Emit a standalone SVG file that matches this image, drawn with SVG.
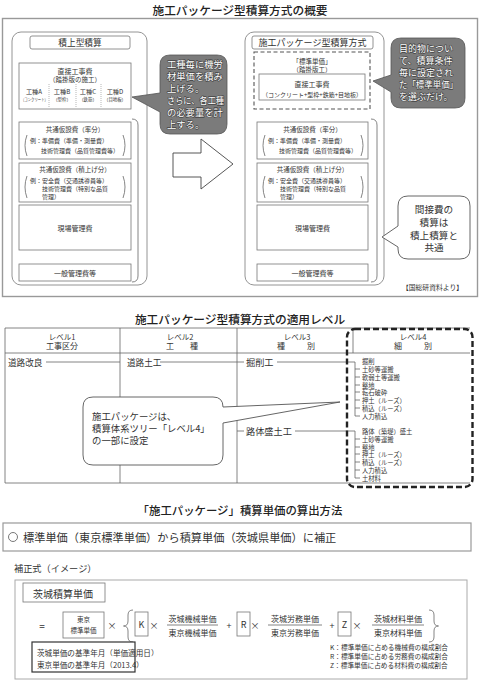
<svg xmlns="http://www.w3.org/2000/svg" width="480" height="681" viewBox="0 0 480 681">
<style>
text{font-family:'Noto Sans CJK JP','Noto Sans CJK SC',sans-serif;fill:#333;dominant-baseline:central}
.m{text-anchor:middle}
.e{text-anchor:end}
.h{font-weight:500;fill:#222}
.b{fill:#fff;stroke:#777;stroke-width:0.8}
.panel{fill:#fff;stroke:#888;stroke-width:0.9}
.ln{fill:none;stroke:#666;stroke-width:0.8}
.dot{fill:none;stroke:#999;stroke-width:0.7;stroke-dasharray:1 1}
.dk{fill:#7b7b7b;stroke:#555;stroke-width:0.8}
.wt{fill:#fff;stroke:#444;stroke-width:1.3;paint-order:stroke;stroke-linejoin:round}
.co{fill:#fff;stroke:#555;stroke-width:0.9}
</style>
<rect width="480" height="681" fill="#fff"/>

<!-- Section 1 -->
<text class="m h" x="240" y="9" font-size="11.7">施工パッケージ型積算方式の概要</text>
<rect x="2.5" y="18.5" width="475" height="278" fill="none" stroke="#999" stroke-width="1.4"/>

<g id="sekiage">
<rect class="panel" x="12" y="32" width="135" height="253" rx="9"/>
<rect class="b" x="30" y="36" width="100" height="13" rx="2"/>
<text class="m" x="80" y="42.5" font-size="8.7">積上型積算</text>
<rect class="b" x="19" y="63" width="112" height="46"/>
<text class="m" x="75" y="71" font-size="7">直接工事費</text>
<text class="m" x="75" y="79" font-size="6.5">（踏掛版の施工）</text>
<path class="dot" d="M49,84V107M76,84V107M101,84V107"/>
<text class="m" x="34" y="91" font-size="6.2">工種A</text>
<text class="m" x="34.5" y="99" font-size="4.3" textLength="27" lengthAdjust="spacingAndGlyphs">（コンクリート）</text>
<text class="m" x="62" y="91" font-size="6.2">工種B</text>
<text class="m" x="62" y="99" font-size="4.4">（型枠）</text>
<text class="m" x="88" y="91" font-size="6.2">工種C</text>
<text class="m" x="88" y="99" font-size="4.4">（鉄筋）</text>
<text class="m" x="115" y="91" font-size="6.2">工種D</text>
<text class="m" x="115" y="99" font-size="4.4">（目地板）</text>
<path class="ln" d="M132,119 Q138,119 138,125 V276 Q138,282 132,282"/>
<rect class="b" x="19" y="122" width="112" height="37"/>
<text class="m" x="75" y="128.5" font-size="6.5">共通仮設費（率分）</text>
<path class="ln" d="M27,135 Q23,145.5 27,156 M123,135 Q127,145.5 123,156"/>
<text x="30" y="140" font-size="6">例：準備費（準備・測量費）</text>
<text x="41" y="150.5" font-size="6">技術管理費（品質管理費等）</text>
<rect class="b" x="19" y="163" width="112" height="39"/>
<text class="m" x="75" y="169" font-size="6.5">共通仮設費（積上げ分）</text>
<path class="ln" d="M27,176 Q23,187 27,198 M123,176 Q127,187 123,198"/>
<text x="30" y="180" font-size="6">例：安全費（交通誘導員等）</text>
<text x="42" y="188.5" font-size="6">技術管理費（特別な品質</text>
<text x="42" y="196.5" font-size="6">管理）</text>
<rect class="b" x="19" y="205" width="112" height="45"/>
<text class="m" x="75" y="227.5" font-size="7">現場管理費</text>
<rect class="b" x="19" y="264" width="112" height="17"/>
<text class="m" x="75" y="272.5" font-size="7">一般管理費等</text>
</g>

<g id="package">
<rect class="panel" x="245" y="32" width="139" height="253" rx="9"/>
<rect class="b" x="252" y="36" width="121" height="13" rx="2"/>
<text class="m" x="312.5" y="42.5" font-size="9">施工パッケージ型積算方式</text>
<rect x="254" y="52" width="116" height="57" fill="none" stroke="#555" stroke-width="1.1" stroke-dasharray="4 2.5"/>
<text class="m" x="312" y="61" font-size="6.5">「標準単価」</text>
<text class="m" x="312" y="69" font-size="6.5">（踏掛版工）</text>
<rect class="b" x="259" y="74" width="106" height="26"/>
<text class="m" x="312" y="84" font-size="7">直接工事費</text>
<text class="m" x="312" y="94" font-size="6">（コンクリート+型枠+鉄筋+目地板）</text>
<path class="ln" d="M371,119 Q377,119 377,125 V276 Q377,282 371,282"/>
<rect class="b" x="257" y="122" width="111" height="37"/>
<text class="m" x="312.5" y="128.5" font-size="6.5">共通仮設費（率分）</text>
<path class="ln" d="M265,135 Q261,145.5 265,156 M361,135 Q365,145.5 361,156"/>
<text x="268" y="140" font-size="6">例：準備費（準備・測量費）</text>
<text x="279" y="150.5" font-size="6">技術管理費（品質管理費等）</text>
<rect class="b" x="257" y="163" width="111" height="39"/>
<text class="m" x="312.5" y="169" font-size="6.5">共通仮設費（積上げ分）</text>
<path class="ln" d="M265,176 Q261,187 265,198 M361,176 Q365,187 361,198"/>
<text x="268" y="180" font-size="6">例：安全費（交通誘導員等）</text>
<text x="280" y="188.5" font-size="6">技術管理費（特別な品質</text>
<text x="280" y="196.5" font-size="6">管理）</text>
<rect class="b" x="257" y="205" width="111" height="45"/>
<text class="m" x="312.5" y="227.5" font-size="7">現場管理費</text>
<rect class="b" x="257" y="264" width="111" height="17"/>
<text class="m" x="312.5" y="272.5" font-size="7">一般管理費等</text>
</g>

<g id="connectors">
<polygon points="173,153 201,153 201,139 233,164 201,189 201,177 173,177" fill="#fff" stroke="#444" stroke-width="0.9"/>
</g>

<g id="callout1">
<path class="dk" d="M170,55 H217 Q227,55 227,65 V124 Q227,134 217,134 H170 Q160,134 160,124 V112 L132,97 L160,93 V65 Q160,55 170,55 Z"/>
<text class="wt" x="167" y="63.5" font-size="9.3">工種毎に機労</text>
<text class="wt" x="167" y="75.6" font-size="9.3">材単価を積み</text>
<text class="wt" x="167" y="87.7" font-size="9.3">上げる。</text>
<text class="wt" x="167" y="99.8" font-size="9.3" textLength="57" lengthAdjust="spacingAndGlyphs">さらに、各工種</text>
<text class="wt" x="167" y="111.9" font-size="9.3">の必要量を計</text>
<text class="wt" x="167" y="124" font-size="9.3">上する。</text>
</g>

<g id="callout2">
<path class="dk" d="M401,38 H455 Q465,38 465,48 V98 Q465,108 455,108 H401 Q391,108 391,98 V92 L373,81 L391,75 V48 Q391,38 401,38 Z"/>
<text class="wt" x="399" y="48.5" font-size="9">目的物につい</text>
<text class="wt" x="399" y="60.5" font-size="9">て、積算条件</text>
<text class="wt" x="399" y="72.5" font-size="9">毎に設定され</text>
<text class="wt" x="399" y="84.5" font-size="9" textLength="59" lengthAdjust="spacingAndGlyphs">た「標準単価」</text>
<text class="wt" x="399" y="96.5" font-size="9">を選ぶだけ。</text>
</g>

<g id="callout3">
<path class="co" d="M408,196 H460 Q470,196 470,206 V249 Q470,259 460,259 H408 Q398,259 398,249 V247 L382,237 L398,226 V206 Q398,196 408,196 Z"/>
<text class="m" x="434" y="209" font-size="9.6">間接費の</text>
<text class="m" x="434" y="222" font-size="9.6">積算は</text>
<text class="m" x="434" y="234.5" font-size="9.6">積上積算と</text>
<text class="m" x="434" y="247" font-size="9.6">共通</text>
</g>
<text class="e" x="463" y="287" font-size="6.8">【国総研資料より】</text>

<!-- Section 2 -->
<text class="m h" x="240" y="318" font-size="11.7">施工パッケージ型積算方式の適用レベル</text>
<g id="table">
<path class="ln" d="M5,328H470 M5,353H470 M5,483H470 M5,328V483 M120,328V483 M237,328V483 M353,328V353"/>
<text class="m" x="62" y="336" font-size="7.5">レベル1</text>
<text class="m" x="62" y="345" font-size="8">工事区分</text>
<text class="m" x="180" y="336" font-size="7.5">レベル2</text>
<text class="m" x="182" y="345" font-size="8">工　　種</text>
<text class="m" x="297" y="336" font-size="7.5">レベル3</text>
<text class="m" x="297" y="345" font-size="8" letter-spacing="2">種　　別</text>
<text class="m" x="413" y="336" font-size="7.5">レベル4</text>
<text class="m" x="414" y="345" font-size="8" letter-spacing="2">細　　別</text>
</g>
<g id="tree">
<path class="ln" d="M46,362H120 M160,362H244 M277,362H355 M237,431H244 M295,431H355"/>
<path class="ln" d="M355,362V416H360 M355,369H360 M355,377H360 M355,385H360 M355,392H360 M355,400H360 M355,408H360"/>
<path class="ln" d="M355,431V478H360 M355,439H360 M355,447H360 M355,454H360 M355,462H360 M355,470H360"/>
</g>
<g id="level-texts">
<text x="8" y="362" font-size="8.6">道路改良</text>
<text x="127" y="362" font-size="8.6">道路土工</text>
<text x="246" y="362" font-size="9.2">掘削工</text>
<text x="246" y="431" font-size="9.2">路体盛土工</text>
<g font-size="6.3">
<text x="362" y="361.5">掘削</text>
<text x="362" y="369">土砂等運搬</text>
<text x="362" y="377">軟弱土等運搬</text>
<text x="362" y="385">整地</text>
<text x="362" y="392">転石破砕</text>
<text x="362" y="400">押土（ルーズ）</text>
<text x="362" y="408">積込（ルーズ）</text>
<text x="362" y="416">人力積込</text>
<text x="362" y="431">路体（築堤）盛土</text>
<text x="362" y="439">土砂等運搬</text>
<text x="362" y="447">整地</text>
<text x="362" y="454">押土（ルーズ）</text>
<text x="362" y="462">積込（ルーズ）</text>
<text x="362" y="470">人力積込</text>
<text x="362" y="478">土材料</text>
</g>
</g>
<rect id="level4-frame" x="347" y="329" width="125.5" height="158" rx="8" fill="none" stroke="#222" stroke-width="2.4" stroke-dasharray="6 3"/>
<g id="callout4">
<path class="co" d="M93,397 H213 Q223,397 223,407 L340,402 L223,423 V455 Q223,465 213,465 H93 Q83,465 83,455 V407 Q83,397 93,397 Z"/>
<text x="92" y="416" font-size="9.4">施工パッケージは、</text>
<text x="92" y="428" font-size="9.4">積算体系ツリー「レベル4」</text>
<text x="92" y="440" font-size="9.4">の一部に設定</text>
</g>

<!-- Section 3 -->
<text class="m h" x="240" y="510" font-size="11.4">「施工パッケージ」積算単価の算出方法</text>
<g id="summary">
<rect x="3" y="523" width="468" height="28" fill="#fff" stroke="#999" stroke-width="1.2"/>
<circle cx="13" cy="537" r="4.5" fill="none" stroke="#555" stroke-width="0.8"/>
<text x="23" y="537" font-size="11.2">標準単価（東京標準単価）から積算単価（茨城県単価）に補正</text>
</g>
<text x="14" y="568" font-size="9.2">補正式（イメージ）</text>
<g id="formula">
<rect x="15" y="580" width="452" height="99" fill="#fff" stroke="#aaa" stroke-width="1"/>
<rect class="b" x="23" y="583" width="82" height="19"/>
<text x="33" y="593" font-size="10">茨城積算単価</text>
<text class="m" x="42" y="625" font-size="10">=</text>
<rect class="b" x="63" y="612" width="41" height="26"/>
<text class="m" x="83.5" y="618.5" font-size="6.5">東京</text>
<text class="m" x="83.5" y="630" font-size="6.5">標準単価</text>
<text class="m" x="112" y="625" font-size="9">×</text>
<path class="ln" d="M133,610 Q128,610 128,615 V621 Q128,626 123.5,626 Q128,626 128,631 V637 Q128,642 133,642"/>
<rect class="b" x="135" y="612" width="13" height="24"/>
<text class="m" x="141.5" y="624" font-size="9">K</text>
<text class="m" x="154" y="625" font-size="9">×</text>
<text class="m" x="192.5" y="618" font-size="8">茨城機械単価</text>
<path class="ln" d="M167,625H218"/>
<text class="m" x="192.5" y="632" font-size="8">東京機械単価</text>
<text class="m" x="229" y="625" font-size="9">+</text>
<rect class="b" x="237" y="612" width="13" height="24"/>
<text class="m" x="243.5" y="624" font-size="9">R</text>
<text class="m" x="255" y="625" font-size="9">×</text>
<text class="m" x="295" y="618" font-size="8">茨城労務単価</text>
<path class="ln" d="M268,625H322"/>
<text class="m" x="295" y="632" font-size="8">東京労務単価</text>
<text class="m" x="332" y="625" font-size="9">+</text>
<rect class="b" x="338" y="612" width="13" height="24"/>
<text class="m" x="344.5" y="624" font-size="9">Z</text>
<text class="m" x="357" y="625" font-size="9">×</text>
<text class="m" x="398" y="618" font-size="8">茨城材料単価</text>
<path class="ln" d="M372,625H424"/>
<text class="m" x="398" y="632" font-size="8">東京材料単価</text>
<path class="ln" d="M429,610 Q434,610 434,615 V621 Q434,626 438.5,626 Q434,626 434,631 V637 Q434,642 429,642"/>
<rect x="32" y="642" width="103" height="30" fill="#fff" stroke="#333" stroke-width="1.2"/>
<text x="37" y="652" font-size="7.6">茨城単価の基準年月（単価適用日）</text>
<text x="37" y="664" font-size="7.6">東京単価の基準年月（2013.4）</text>
<text x="330" y="647" font-size="6.7">K：標準単価に占める機械費の構成割合</text>
<text x="330" y="656" font-size="6.7">R：標準単価に占める労務費の構成割合</text>
<text x="330" y="665" font-size="6.7">Z：標準単価に占める材料費の構成割合</text>
</g>
</svg>
